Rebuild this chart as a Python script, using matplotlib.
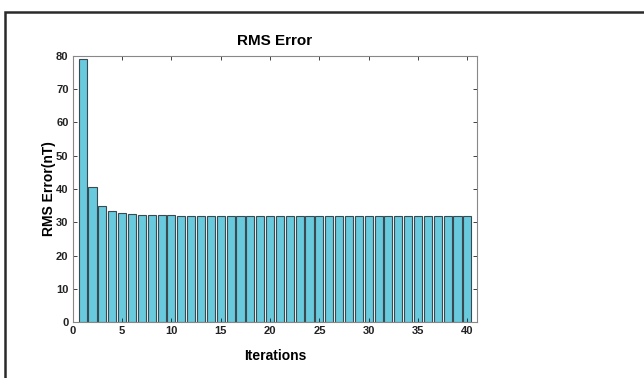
import matplotlib.pyplot as plt
import numpy as np

# RMS error per iteration
iterations = np.arange(1, 41)
rms_error = [79.0, 40.5, 35.0, 33.5, 32.7, 32.4, 32.3, 32.1, 32.1, 32.1] + [31.8] * 30

x_ticks = [0, 5, 10, 15, 20, 25, 30, 35, 40]
y_ticks = [0, 10, 20, 30, 40, 50, 60, 70, 80]

narrow = ['Liberation Sans Narrow', 'Liberation Sans']

fig = plt.figure(figsize=(6.44, 3.78), dpi=100)
ax = fig.add_axes([0.113, 0.148, 0.628, 0.704])

ax.bar(iterations, rms_error, width=0.82, color='#68cadc', edgecolor='#3a4a50', linewidth=0.8)

ax.set_xlim(0, 41)
ax.set_ylim(0, 80)
ax.set_xticks(x_ticks)
ax.set_yticks(y_ticks)

tick_font = dict(family=narrow, weight='bold', size=8)
ax.set_xticklabels([str(t) for t in x_ticks], fontdict=tick_font)
ax.set_yticklabels([str(t) for t in y_ticks], fontdict=tick_font)
ax.tick_params(direction='in', length=3, width=0.6, top=True, right=True, pad=3, colors='#222222')
for sp in ax.spines.values():
    sp.set_color('#888888')
    sp.set_linewidth(0.8)

ax.set_title('RMS Error', family=narrow, weight='bold', size=11, pad=8)
ax.set_xlabel('Iterations', family=narrow, weight='bold', size=10, labelpad=9)
ax.set_ylabel('RMS Error(nT)', family='Liberation Sans', weight='bold', size=10, labelpad=0)

# outer frame of the figure
fig.patches.append(plt.Rectangle((5 / 644, -0.1), 1.2, 1 - 12 / 378 + 0.1,
                                 transform=fig.transFigure, fill=False,
                                 edgecolor='#2a2a2a', linewidth=1.8))

fig.savefig('out.png', dpi=100)
